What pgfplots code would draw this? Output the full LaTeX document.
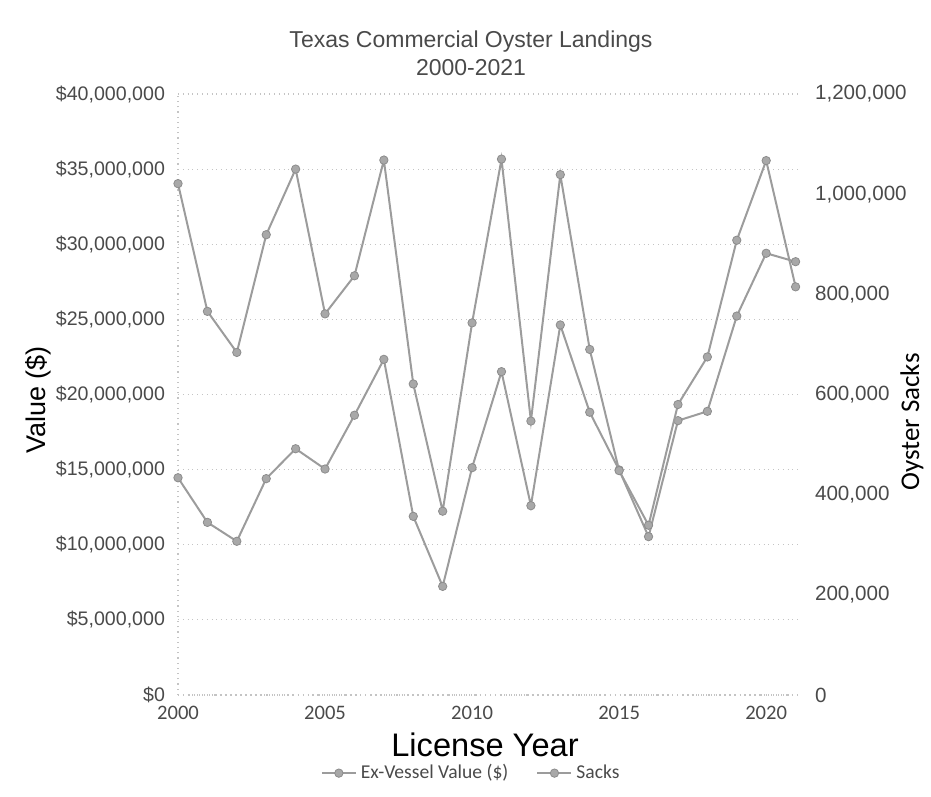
\documentclass[border=0pt]{standalone}
\usepackage{pgfplots}
\pgfplotsset{compat=1.18}
\usepackage{fontspec}
\setmainfont{Liberation Sans}
\newfontfamily\carlito{Carlito}
\definecolor{txt}{HTML}{4A4A4A}
\definecolor{ser}{HTML}{9C9C9C}
\definecolor{mk}{HTML}{A8A8A8}
\definecolor{gridc}{HTML}{C4C4C4}
\begin{document}
\begin{tikzpicture}
\path[use as bounding box] (-89pt,-51pt) rectangle (376.5pt,347.5pt);
\pgfplotsset{
  common/.style={
    scale only axis, width=311pt, height=300.5pt,
    at={(0pt,0pt)}, anchor=south west,
    xmin=2000, xmax=2021.15,
    tick style={draw=none},
    scaled y ticks=false, scaled x ticks=false,
  },
  ser/.style={color=ser, line width=1pt, mark=*, mark size=2.1pt,
    mark options={fill=mk, draw=ser!90!black, line width=0.4pt}},
}
\begin{axis}[common,
  ymin=0, ymax=40000000,
  ytick={0,5000000,10000000,15000000,20000000,25000000,30000000,35000000,40000000},
  yticklabels={{\$0},{\$5,000,000},{\$10,000,000},{\$15,000,000},{\$20,000,000},{\$25,000,000},{\$30,000,000},{\$35,000,000},{\$40,000,000}},
  xtick={2000,2005,2010,2015,2020},
  xticklabels={2000,2005,2010,2015,2020},
  ymajorgrids,
  grid style={gridc, dotted, line width=0.6pt},
  axis x line*=bottom, axis y line*=left,
  axis line style={gridc, dotted, line width=0.6pt, -},
  xticklabel style={font=\carlito\fontsize{10.3}{12}\selectfont, text=txt, yshift=-2pt},
  yticklabel style={font=\fontsize{9.8}{12}\selectfont, text=txt, xshift=-3pt},
  legend style={at={(0.473,-0.13)}, anchor=center, legend columns=2, draw=none, fill=none,
    font=\carlito\fontsize{9.8}{11}\selectfont, text=txt,
    /tikz/every even column/.append style={column sep=12pt}},
  legend image code/.code={\draw[#1, mark repeat=2, mark phase=2] plot coordinates {(0pt,0pt)(8.5pt,0pt)(17pt,0pt)};},
]
\addplot[ser] coordinates {
(2000,14460000) (2001,11490000) (2002,10230000) (2003,14400000) (2004,16390000)
(2005,15040000) (2006,18620000) (2007,22340000) (2008,11890000) (2009,7230000)
(2010,15130000) (2011,21520000) (2012,12600000) (2013,24630000) (2014,18820000)
(2015,14980000) (2016,10540000) (2017,18260000) (2018,18880000) (2019,25220000)
(2020,29400000) (2021,28840000)};
\addlegendentry{Ex-Vessel Value (\$)}
\addlegendimage{ser}
\addlegendentry{Sacks}
\end{axis}
\begin{axis}[common,
  ymin=0, ymax=1200000,
  axis y line*=right, axis x line=none,
  y axis line style={draw=none},
  ytick={0,200000,400000,600000,800000,1000000,1200000},
  yticklabels={{0},{200,000},{400,000},{600,000},{800,000},{1,000,000},{1,200,000}},
  yticklabel style={font=\fontsize{10.3}{12}\selectfont, text=txt, xshift=4pt},
]
\addplot[ser] coordinates {
(2000,1021000) (2001,766000) (2002,684000) (2003,919000) (2004,1050000)
(2005,761000) (2006,837000) (2007,1068000) (2008,621000) (2009,367000)
(2010,743000) (2011,1070000) (2012,547000) (2013,1039000) (2014,690000)
(2015,448000) (2016,339000) (2017,580000) (2018,675000) (2019,908000)
(2020,1067000) (2021,815000)};
\end{axis}
\node[font=\fontsize{11.5}{14}\selectfont, text=txt, align=center] at (146.5pt,321pt) {Texas Commercial Oyster Landings\\2000-2021};
\node[font=\fontsize{16.3}{18}\selectfont, text=black] at (153.5pt,-25pt) {License Year};
\node[font=\fontsize{13.5}{16}\selectfont, text=black, rotate=90] at (-70pt,147.5pt) {Value (\$)};
\node[font=\carlito\fontsize{13.5}{16}\selectfont, text=black, rotate=90] at (367pt,136.5pt) {Oyster Sacks};
\end{tikzpicture}
\end{document}
